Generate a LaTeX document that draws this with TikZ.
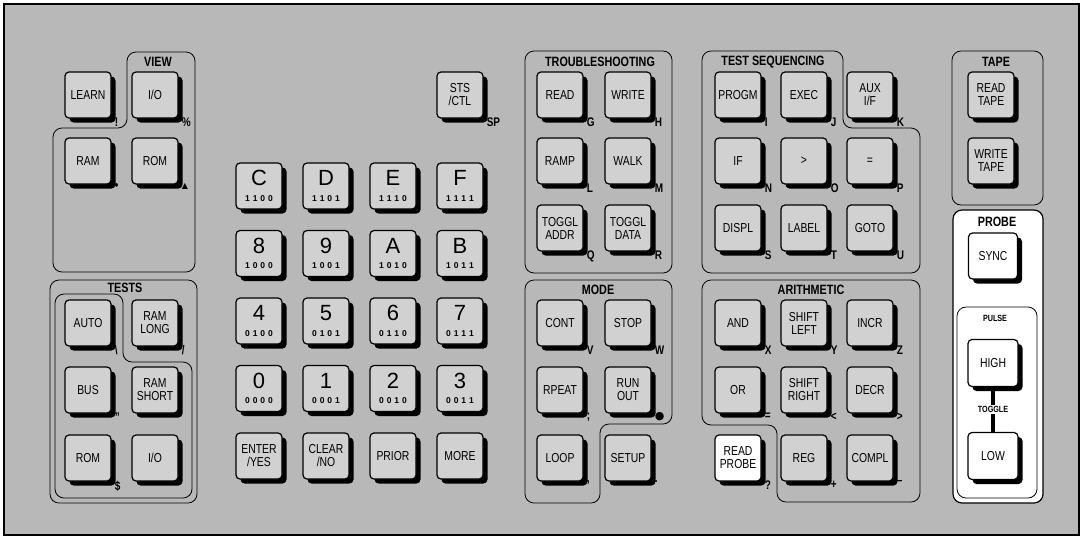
\documentclass[tikz,border=0pt]{standalone}
\usepackage{fontspec}
\setmainfont{Liberation Sans}[FakeStretch=0.8]
\newfontfamily\hexfont{Liberation Sans}
\newfontfamily\symfont{DejaVu Sans}
\usetikzlibrary{shadows}
\definecolor{panel}{gray}{0.72}
\definecolor{keyface}{gray}{0.82}
\def\spreadbits#1#2#3#4{#1\hskip3pt#2\hskip3pt#3\hskip3pt#4}

\begin{document}
\begin{tikzpicture}[x=1pt,y=-1pt,
  key/.style={draw,line width=1.2pt,rounded corners=4pt,fill=keyface,minimum width=46pt,minimum height=46pt,
    inner sep=1pt,align=center,font=\fontsize{13}{13}\selectfont,
    drop shadow={shadow xshift=4.5pt,shadow yshift=-4.5pt,opacity=1,fill=black}},
  wkey/.style={key,fill=white},
  sub/.style={anchor=north west,inner sep=0pt,xshift=3pt,yshift=1pt,font=\bfseries\fontsize{12.5}{12.5}\selectfont},
  grp/.style={draw,line width=.8pt,rounded corners=9pt},
  grpcap/.style={font=\bfseries\fontsize{13.5}{13.5}\selectfont},
  smallcap/.style={font=\bfseries\fontsize{9}{9}\selectfont}]
\useasboundingbox (0,0) rectangle (1083,539);
\draw[line width=1.5pt,fill=panel] (4,4) rectangle (1079,535);

% group outlines
\draw[grp] (127,52) -- (195,52) -- (195,272) -- (53,272) -- (53,128) -- (127,128) -- cycle;
\draw[grp] (50,280) rectangle (197,503);
\draw[grp] (55,294) -- (123,294) -- (123,362) -- (192,362) -- (192,498) -- (55,498) -- cycle;
\draw[grp] (525,51) rectangle (672,273);
\draw[grp] (525,280) -- (672,280) -- (672,424) -- (600,424) -- (600,503) -- (525,503) -- cycle;
\draw[grp] (702,51) -- (843,51) -- (843,128) -- (920,128) -- (920,273) -- (702,273) -- cycle;
\draw[grp] (702,280) -- (920,280) -- (920,502) -- (777,502) -- (777,425) -- (702,425) -- cycle;
\draw[grp] (952,51) rectangle (1043,205);
\draw[grp,fill=white,line width=1.2pt] (953,210) rectangle (1043,503);
\draw[grp,fill=white] (957,307) rectangle (1037,498);

\node[grpcap] (viewcap) at (158,62) {VIEW};
\node[grpcap] (testcap) at (125,288) {TESTS};
\node[grpcap] (tscap) at (600,62) {TROUBLESHOOTING};
\node[grpcap] (modecap) at (598,290) {MODE};
\node[grpcap] (seqcap) at (773,62) {TEST SEQUENCING};
\node[grpcap] (arcap) at (811,290) {ARITHMETIC};
\node[grpcap] (tapecap) at (996,62) {TAPE};
\node[grpcap] (probecap) at (997,222) {PROBE};
\node[smallcap] (pulsecap) at (995,318) {PULSE};

% view
\node[key] (learn) at (88,95) {LEARN};
\node[sub] (learn-s) at (learn.south east) {!};
\node[key] (vio) at (155,95) {I/O};
\node[sub] (vio-s) at (vio.south east) {\%};
\node[key] (vram) at (88,161) {RAM};
\node[sub] (vram-s) at (vram.south east) {\textbullet};
\node[key] (vrom) at (155,161) {ROM};
\node[sub] (vrom-s) at (vrom.south east) {{\symfont\fontsize{8}{8}\selectfont ▲}};

% tests
\node[key] (auto) at (88,323) {AUTO};
\node[sub] (auto-s) at (auto.south east) {\textbackslash};
\node[key] (ramlong) at (155,323) {RAM\\LONG};
\node[sub] (ramlong-s) at (ramlong.south east) {/};
\node[key] (bus) at (88,390) {BUS};
\node[sub] (bus-s) at (bus.south east) {"};
\node[key] (ramshort) at (155,390) {RAM\\SHORT};
\node[key] (trom) at (88,458) {ROM};
\node[sub] (trom-s) at (trom.south east) {\$};
\node[key] (tio) at (155,458) {I/O};

% hex pad
\node[key] (sts) at (460,95) {STS\\/CTL};
\node[sub] (sts-s) at (sts.south east) {SP};
\foreach \hc/\hb [count=\i from 0] in {C/1100,D/1101,E/1110,F/1111,8/1000,9/1001,A/1010,B/1011,
    4/0100,5/0101,6/0110,7/0111,0/0000,1/0001,2/0010,3/0011}{
  \pgfmathsetmacro\hx{259+67*mod(\i,4)}
  \pgfmathsetmacro\hy{186+67.5*int(\i/4)}
  \node[key] (hex\hc) at (\hx,\hy)
    {{\hexfont\fontsize{22}{22}\selectfont\hc}\\[2.5pt]{\hexfont\bfseries\fontsize{8.5}{8.5}\selectfont\expandafter\spreadbits\hb}};
}
\node[key] (enter) at (259,456) {ENTER\\/YES};
\node[key] (clear) at (326,456) {CLEAR\\/NO};
\node[key] (prior) at (393,456) {PRIOR};
\node[key] (more) at (460,456) {MORE};

% troubleshooting
\node[key] (read) at (560,95) {READ};
\node[sub] (read-s) at (read.south east) {G};
\node[key] (write) at (628,95) {WRITE};
\node[sub] (write-s) at (write.south east) {H};
\node[key] (ramp) at (560,161) {RAMP};
\node[sub] (ramp-s) at (ramp.south east) {L};
\node[key] (walk) at (628,161) {WALK};
\node[sub] (walk-s) at (walk.south east) {M};
\node[key] (tgaddr) at (560,228) {TOGGL\\ADDR};
\node[sub] (tgaddr-s) at (tgaddr.south east) {Q};
\node[key] (tgdata) at (628,228) {TOGGL\\DATA};
\node[sub] (tgdata-s) at (tgdata.south east) {R};

% mode
\node[key] (cont) at (560,323) {CONT};
\node[sub] (cont-s) at (cont.south east) {V};
\node[key] (stop) at (628,323) {STOP};
\node[sub] (stop-s) at (stop.south east) {W};
\node[key] (rpeat) at (560,390) {RPEAT};
\node[sub] (rpeat-s) at (rpeat.south east) {;};
\node[key] (runout) at (628,390) {RUN\\OUT};
\node[sub] (runout-s) at (runout.south east) {{\symfont\fontsize{11}{11}\selectfont ●}};
\node[key] (loop) at (560,458) {LOOP};
\node[sub] (loop-s) at (loop.south east) {,};
\node[key] (setup) at (628,458) {SETUP};
\node[sub] (setup-s) at (setup.south east) {.};

% test sequencing
\node[key] (progm) at (738,95) {PROGM};
\node[sub] (progm-s) at (progm.south east) {I};
\node[key] (exec) at (804,95) {EXEC};
\node[sub] (exec-s) at (exec.south east) {J};
\node[key] (aux) at (870,95) {AUX\\I/F};
\node[sub] (aux-s) at (aux.south east) {K};
\node[key] (ifk) at (738,161) {IF};
\node[sub] (ifk-s) at (ifk.south east) {N};
\node[key] (gtk) at (804,161) {>};
\node[sub] (gtk-s) at (gtk.south east) {O};
\node[key] (eqk) at (870,161) {=};
\node[sub] (eqk-s) at (eqk.south east) {P};
\node[key] (displ) at (738,228) {DISPL};
\node[sub] (displ-s) at (displ.south east) {S};
\node[key] (lbl) at (804,228) {LABEL};
\node[sub] (lbl-s) at (lbl.south east) {T};
\node[key] (goto) at (870,228) {GOTO};
\node[sub] (goto-s) at (goto.south east) {U};

% arithmetic
\node[key] (andk) at (738,323) {AND};
\node[sub] (andk-s) at (andk.south east) {X};
\node[key] (shl) at (804,323) {SHIFT\\LEFT};
\node[sub] (shl-s) at (shl.south east) {Y};
\node[key] (incr) at (870,323) {INCR};
\node[sub] (incr-s) at (incr.south east) {Z};
\node[key] (ork) at (738,390) {OR};
\node[sub] (ork-s) at (ork.south east) {=};
\node[key] (shr) at (804,390) {SHIFT\\RIGHT};
\node[sub] (shr-s) at (shr.south east) {<};
\node[key] (decr) at (870,390) {DECR};
\node[sub] (decr-s) at (decr.south east) {>};
\node[wkey] (rdprobe) at (738,458) {READ\\PROBE};
\node[sub] (rdprobe-s) at (rdprobe.south east) {?};
\node[key] (reg) at (804,458) {REG};
\node[sub] (reg-s) at (reg.south east) {+};
\node[key] (compl) at (870,458) {COMPL};
\node[sub] (compl-s) at (compl.south east) {--};

% tape and probe
\node[key] (rtape) at (991,95) {READ\\TAPE};
\node[key] (wtape) at (991,161) {WRITE\\TAPE};
\node[wkey,minimum width=49pt] (sync) at (993,256) {SYNC};
\node[wkey,minimum width=50pt,minimum height=47pt] (high) at (993,363) {HIGH};
\node[wkey,minimum width=50pt,minimum height=47pt] (low) at (993,456) {LOW};
\draw[line width=4pt] (high.south) -- node[smallcap,fill=white,inner sep=1.5pt] (tglcap) {TOGGLE} (low.north);
\end{tikzpicture}
\end{document}
